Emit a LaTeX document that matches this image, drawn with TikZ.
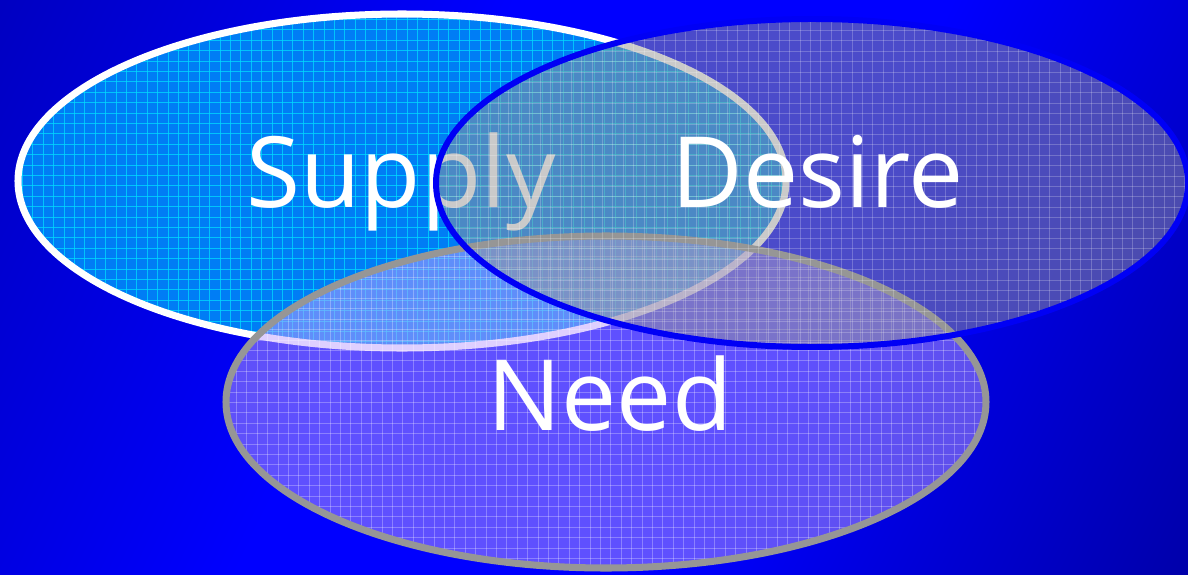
\documentclass[tikz,border=0pt]{standalone}
\usepackage{fontspec}
\setmainfont{Open Sans}
\usepackage{xcolor}
\usepackage{tikz}
\definecolor{stageblue}{RGB}{0,0,255}
\definecolor{stagedark}{RGB}{0,0,190}
\definecolor{stagedeep}{RGB}{0,0,165}
\definecolor{supplyfill}{RGB}{0,125,245}
\definecolor{supplygrid}{RGB}{0,220,255}
\definecolor{desirefill}{RGB}{150,150,150}
\definecolor{desirerim}{RGB}{0,0,245}
\definecolor{needfill}{RGB}{190,160,255}
\definecolor{needrim}{RGB}{150,150,150}
\pgfdeclarehorizontalshading{stageshade}{100bp}{color(0bp)=(stagedark); color(15bp)=(stagedark);
  color(40bp)=(stageblue); color(60bp)=(stageblue); color(85bp)=(stagedeep); color(100bp)=(stagedeep)}

\begin{document}
\begin{tikzpicture}[x=0.02cm, y=-0.02cm,
    word/.style={text=white, font=\fontsize{56}{60}\selectfont, inner sep=0pt, anchor=base},
    gridline/.style={line width=0.45pt}]
  \useasboundingbox (0,0) rectangle (1188,575);
  \shade[shading=stageshade, shading angle=-26] (0,0) rectangle (1188,575);

  % supply: solid fill with a cyan grid
  \fill[supplyfill] (402,181) ellipse [x radius=384, y radius=167];
  \begin{scope}
    \clip (402,181) ellipse [x radius=384, y radius=167];
    \foreach \gx in {12,22.4,...,792} \draw[gridline, supplygrid, draw opacity=0.75] (\gx,10) -- (\gx,352);
    \foreach \gy in {9,19.4,...,352} \draw[gridline, supplygrid, draw opacity=0.75] (15,\gy) -- (790,\gy);
  \end{scope}
  \draw[white, line width=4pt] (402,181) ellipse [x radius=384, y radius=167];
  \node[word] (supply) at (401,207) {Supply};

  % need: see-through lilac
  \fill[needfill, fill opacity=0.5] (606,402) ellipse [x radius=380, y radius=166];
  \begin{scope}
    \clip (606,402) ellipse [x radius=380, y radius=166];
    \foreach \gx in {226,236.4,...,990} \draw[gridline, white, draw opacity=0.28] (\gx,233) -- (\gx,572);
    \foreach \gy in {236,246.4,...,572} \draw[gridline, white, draw opacity=0.28] (223,\gy) -- (990,\gy);
  \end{scope}
  \draw[needrim, line width=4pt] (606,402) ellipse [x radius=380, y radius=166];
  \node[word] (need) at (610,430) {Need};

  % desire: see-through grey on top
  \fill[desirefill, fill opacity=0.5] (812,183) ellipse [x radius=376, y radius=164];
  \begin{scope}
    \clip (812,183) ellipse [x radius=376, y radius=164];
    \foreach \gx in {436,446.4,...,1188} \draw[gridline, white, draw opacity=0.22] (\gx,17) -- (\gx,352);
    \foreach \gy in {20,30.4,...,352} \draw[gridline, white, draw opacity=0.22] (432,\gy) -- (1188,\gy);
  \end{scope}
  \draw[desirerim, line width=3.4pt] (812,183) ellipse [x radius=376, y radius=164];
  \node[word] (desire) at (818,207) {Desire};
\end{tikzpicture}
\end{document}
